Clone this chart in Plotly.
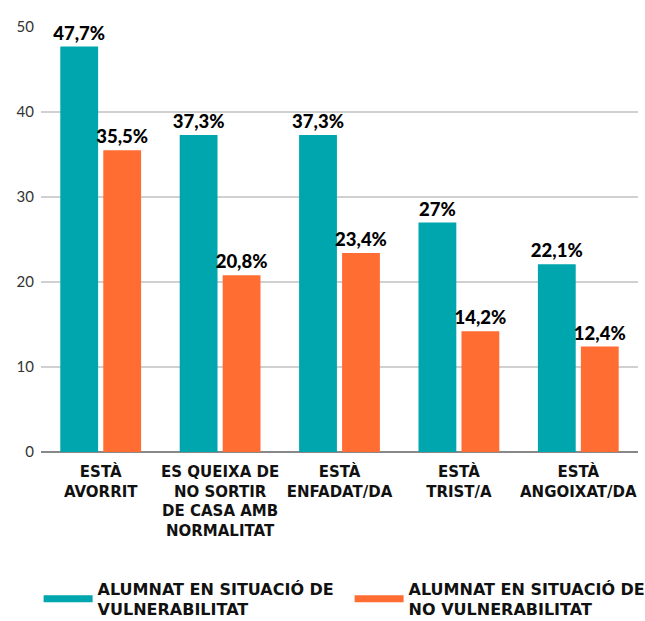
import plotly.graph_objects as go

categories = ["<b>ESTÀ<br>AVORRIT</b>", "<b>ES QUEIXA DE<br>NO SORTIR<br>DE CASA AMB<br>NORMALITAT</b>",
              "<b>ESTÀ<br>ENFADAT/DA</b>", "<b>ESTÀ<br>TRIST/A</b>", "<b>ESTÀ<br>ANGOIXAT/DA</b>"]
vulnerable = [47.7, 37.3, 37.3, 27, 22.1]
no_vulnerable = [35.5, 20.8, 23.4, 14.2, 12.4]
series_names = ["ALUMNAT EN SITUACIÓ DE<br>VULNERABILITAT", "ALUMNAT EN SITUACIÓ DE<br>NO VULNERABILITAT"]
colors = ["#00A6AE", "#FF6D33"]

def fmt(v):
    return ("%g" % v).replace(".", ",") + "%"

x = list(range(len(categories)))
fig = go.Figure()
for vals, col in zip([vulnerable, no_vulnerable], colors):
    fig.add_trace(go.Bar(x=x, y=vals, marker_color=col, marker_line_width=0,
                         text=[fmt(v) for v in vals], textposition="outside", constraintext="none",
                         textfont=dict(family="Lato", size=18.5, color="#000", weight=900),
                         cliponaxis=False, showlegend=False))
for name, col in zip(series_names, colors):
    fig.add_trace(go.Scatter(x=[None], y=[None], mode="lines", name="<b>" + name + "</b>",
                             line=dict(color=col, width=7)))

fig.update_layout(
    width=645, height=621, plot_bgcolor="white", paper_bgcolor="white",
    margin=dict(l=41, r=7, t=27, b=169, autoexpand=False),
    barmode="group", bargap=0.28, bargroupgap=0.12,
    font=dict(family="Lato", color="#000"),
    xaxis=dict(tickmode="array", tickvals=x, ticktext=categories, range=[-0.5, 4.5],
               tickfont=dict(family="DejaVu Sans", size=15, color="#111"), showgrid=False, ticks="",
               ticklabelstandoff=9),
    yaxis=dict(range=[0, 50], tickvals=[0, 10, 20, 30, 40, 50], showgrid=True, gridcolor="#d0d0d0",
               gridwidth=1.5, zeroline=True, zerolinecolor="#888", zerolinewidth=2,
               tickfont=dict(size=15, color="#333"), ticks="", ticklabelstandoff=6),
    legend=dict(orientation="h", x=-0.004, xanchor="left", y=-0.281, yanchor="top",
                font=dict(family="DejaVu Sans", size=16, color="#111"), entrywidth=247,
                itemwidth=49, tracegroupgap=0),
)
fig.write_html("out.html", config={"displayModeBar": False},
               post_script="document.body.style.margin='0';document.body.style.overflow='hidden';")
